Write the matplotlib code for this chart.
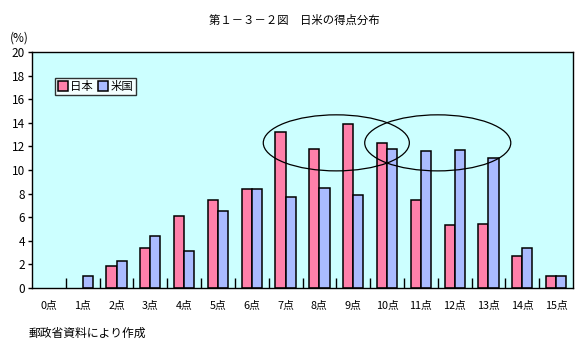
import matplotlib
matplotlib.use("Agg")
import matplotlib.pyplot as plt
from matplotlib.patches import Ellipse, Patch
import numpy as np

plt.rcParams['font.family'] = ['Noto Sans CJK JP', 'DejaVu Sans']

categories = ["0点", "1点", "2点", "3点", "4点", "5点", "6点", "7点",
              "8点", "9点", "10点", "11点", "12点", "13点", "14点", "15点"]
japan = [0, 0, 1.9, 3.4, 6.1, 7.5, 8.4, 13.2, 11.8, 13.9, 12.3, 7.5, 5.3, 5.4, 2.7, 1.0]
usa = [0, 1.0, 2.3, 4.4, 3.1, 6.5, 8.4, 7.7, 8.5, 7.9, 11.8, 11.6, 11.7, 11.0, 3.4, 1.0]
series_names = ["日本", "米国"]
yticks = list(range(0, 21, 2))

fig = plt.figure(figsize=(5.88, 3.55), dpi=100)
ax = fig.add_axes([32/588, 1-288/355, (573-32)/588, (288-52)/355])
ax.set_facecolor('#CCFFFF')

x = np.arange(len(categories))
w = 0.3
pink = '#FF80AA'
blue = '#AABBFF'
handles = []
for vals, off, col, name in ((japan, -w/2, pink, series_names[0]), (usa, w/2, blue, series_names[1])):
    bars = ax.bar(x + off, vals, w, color=col, edgecolor='black', linewidth=1.1, zorder=3)
    for b, v in zip(bars, vals):
        if v == 0:
            b.set_linewidth(0)
    handles.append(Patch(facecolor=col, edgecolor='black', linewidth=1.1, label=name))

ax.set_xlim(-0.5, len(categories) - 0.5)
ax.set_ylim(0, 20)
ax.set_yticks(yticks)
ax.set_yticklabels([str(v) for v in yticks], fontsize=8.5)
ax.tick_params(axis='y', direction='out', length=3, width=1, pad=2)

ax.set_xticks(x)
ax.set_xticklabels(categories, fontsize=7.8)
ax.tick_params(axis='x', which='major', length=0, pad=9)
ax.set_xticks(np.arange(0.5, len(categories) - 0.5, 1), minor=True)
ax.tick_params(axis='x', which='minor', direction='in', length=7, width=1)

for s in ax.spines.values():
    s.set_color('black')
    s.set_linewidth(1)
    s.set_zorder(5)

# ellipses
for cx in (8.5, 11.5):
    e = Ellipse((cx, 12.3), 4.32, 4.75, fill=False, edgecolor='black', linewidth=0.9, zorder=4)
    ax.add_patch(e)

leg = ax.legend(handles=handles, loc='upper left', bbox_to_anchor=(23/541, 1 - 26/236), ncol=2,
                fontsize=8.2, frameon=True, fancybox=False, edgecolor='black',
                handlelength=0.9, handleheight=0.9, handletextpad=0.2, columnspacing=0.4,
                borderpad=0.25, borderaxespad=0)
leg.get_frame().set_linewidth(1)

fig.text(294/588, 1 - 20/355, "第１－３－２図　日米の得点分布", ha='center', va='center', fontsize=8.2)
fig.text(10/588, 1 - 38/355, "(%)", ha='left', va='center', fontsize=8.5)
fig.text(29/588, 1 - 333/355, "郵政省資料により作成", ha='left', va='center', fontsize=8.5)

fig.savefig("out.png", dpi=100)
